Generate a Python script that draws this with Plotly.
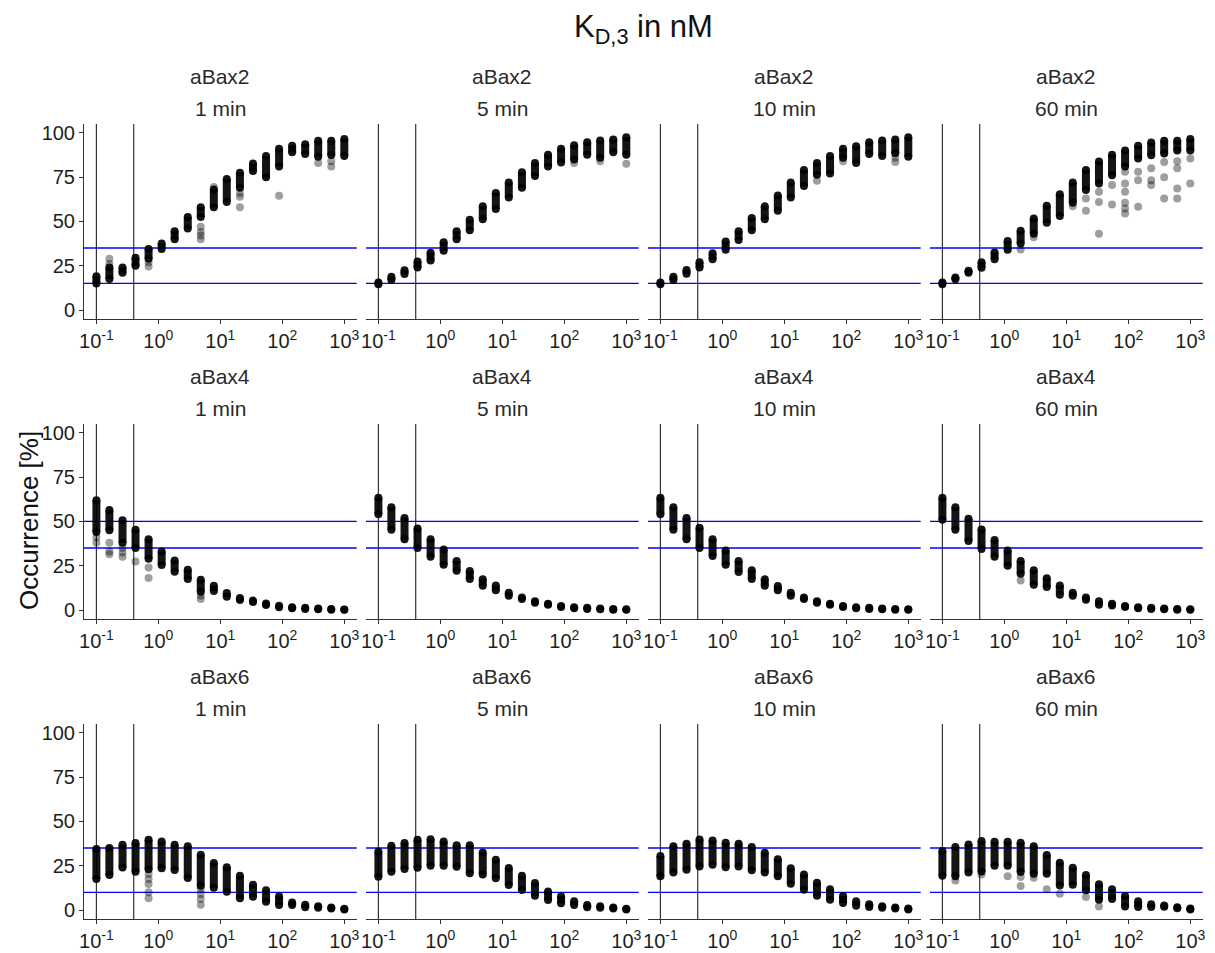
import plotly.graph_objects as go

W, H = 1215, 953

# ---- data ----
conc = [0.1, 0.162, 0.264, 0.428, 0.695, 1.13, 1.83, 2.98, 4.83, 7.85,
        12.7, 20.7, 33.6, 54.6, 88.6, 144, 234, 379, 616, 1000]

proteins = ["aBax2", "aBax4", "aBax6"]
times = ["1 min", "5 min", "10 min", "60 min"]
vlines = [0.1, 0.4]
hlines = {"aBax2": [15, 35], "aBax4": [35, 50], "aBax6": [10, 35]}

aBax2_1_lo = [15, 17.5, 21, 25, 29, 34.5, 40, 46, 52.5, 58, 61, 69, 78.5, 75, 81, 89, 88, 86.5, 87.5, 87]
aBax2_1_hi = [19, 24, 24, 29.5, 34.5, 37.5, 44.5, 52.5, 58, 68, 74, 77.5, 82.7, 87, 91, 92.7, 93.5, 95.5, 95.5, 96.5]
aBax2_1_out = [(1, 26), (1, 29), (4, 24.5), (4, 27), (8, 47), (8, 44), (8, 42), (8, 40), (9, 69.5),
               (11, 66), (11, 64), (11, 58), (14, 64.5), (17, 83), (18, 81), (18, 84)]

aBax2_5_lo = [14.5, 17, 20.3, 24, 28, 33.5, 40, 45, 51.3, 57, 63.5, 69, 75.7, 81, 83.3, 85, 87.6, 86, 89, 87.6]
aBax2_5_hi = [15.5, 18.7, 22.4, 27.4, 32.3, 38.3, 44.4, 51, 58.6, 66, 72, 77.8, 83, 87.6, 91, 93, 94.7, 95.7, 96.2, 97.5]
aBax2_5_out = [(17, 84), (19, 82.5), (15, 83)]

aBax2_10_lo = [14.5, 17, 20.5, 24, 28.7, 34, 39.5, 45, 51.3, 56, 63.5, 70, 76.3, 77, 86, 83, 88, 87, 88.5, 86.5]
aBax2_10_hi = [15.5, 18.7, 22.6, 27, 32, 38.7, 44.5, 52, 58.5, 64.7, 72, 79, 83, 87, 91, 92.5, 94.7, 95.7, 96.2, 97.5]
aBax2_10_out = [(12, 73), (18, 86), (18, 83.5), (14, 84)]

aBax2_60_lo = [14.5, 17.3, 21, 23.9, 28.6, 34, 37.6, 43, 49.2, 53, 60.5, 67.7, 71.4, 76, 81, 85.5, 87.4, 88.3, 90, 90]
aBax2_60_hi = [15.5, 18.4, 22.2, 26.9, 32.5, 39, 44.7, 51.7, 58.8, 65.4, 72, 79, 83.8, 87.6, 90, 92.7, 94.5, 95.5, 95.5, 96.5]
aBax2_60_out = [(6, 34.2), (7, 41), (10, 58.6), (11, 56), (11, 63), (12, 66.7), (12, 61), (12, 43),
                (13, 70.5), (13, 59.6), (14, 78), (14, 71.4), (14, 66.7), (14, 60.5), (14, 57.3), (14, 54.5),
                (15, 78), (15, 73.3), (15, 58.3), (16, 80), (16, 73.3), (16, 70.5), (17, 83.6), (17, 75),
                (17, 63), (18, 84), (18, 80), (18, 68.6), (18, 63), (19, 85.5), (19, 71.4)]

aBax4_1_lo = [44, 45, 38, 35, 29, 25.4, 21.6, 17.5, 10.3, 10.7, 7.5, 5.6, 4.5, 2.8, 1.6, 1.0, 0.6, 0.4, 0.2, 0.1]
aBax4_1_hi = [62, 56.5, 50.6, 45.3, 40, 33, 28, 22.7, 17.1, 13.7, 9.6, 6.8, 5.3, 3.6, 2.4, 1.6, 1.2, 0.8, 0.6, 0.3]
aBax4_1_out = [(0, 41), (0, 38), (1, 38), (1, 33), (1, 31.5), (2, 35), (2, 32.5), (2, 30), (3, 27.4),
               (4, 24), (4, 18), (8, 8), (8, 6.2)]

aBax4_5_lo = [54, 45.3, 40, 35, 30, 25.6, 22.2, 17.5, 13.7, 11.1, 8.1, 6.2, 4.1, 2.9, 1.7, 1.0, 0.6, 0.4, 0.2, 0.1]
aBax4_5_hi = [63.3, 58, 52, 46, 40, 34.2, 27.6, 22, 17.3, 13.9, 9.8, 7, 4.9, 3.5, 2.3, 1.6, 1.2, 0.8, 0.6, 0.4]
aBax4_5_out = []

aBax4_10_lo = [54, 45.3, 40, 35, 30.5, 25.6, 21.4, 17.5, 13.7, 11.1, 8.1, 6.2, 4.1, 2.9, 1.7, 1.0, 0.6, 0.4, 0.2, 0.1]
aBax4_10_hi = [63.3, 58, 52, 46.5, 40, 33.6, 27.6, 22.4, 17.3, 13.5, 9.8, 7, 4.9, 3.5, 2.3, 1.6, 1.2, 0.8, 0.6, 0.4]
aBax4_10_out = []

aBax4_60_lo = [51, 45.3, 39, 34.4, 30, 25, 20.5, 14.3, 13, 8.6, 8.1, 5.8, 3, 2.5, 1.7, 1.0, 0.6, 0.4, 0.2, 0.1]
aBax4_60_hi = [63.3, 58, 51.5, 45.5, 39.5, 33.6, 27.6, 22.4, 17.9, 13.9, 9.8, 7, 5, 3.5, 2.3, 1.6, 1.2, 0.8, 0.6, 0.4]
aBax4_60_out = [(6, 16.7)]

aBax6_1_lo = [17.5, 19.7, 24, 21.6, 23, 23.5, 22.6, 18, 13.7, 12.6, 10.3, 6.6, 7.5, 4.7, 2.8, 2.8, 1.5, 1.3, 0.8, 0.3]
aBax6_1_hi = [34.4, 35, 36.8, 37.8, 39.7, 38.7, 36.8, 36, 31.2, 26.5, 24.2, 19.4, 14.3, 11.1, 7.7, 4.3, 3, 2.1, 1.4, 0.7]
aBax6_1_out = [(4, 20.3), (4, 17.5), (4, 14.7), (4, 10), (4, 6.6), (8, 11.8), (8, 9), (8, 6.2), (8, 3)]

aBax6_5_lo = [18.8, 21.6, 23.1, 23.9, 25, 25, 24.4, 20.7, 20.1, 17.9, 14.1, 11.3, 8.1, 5.6, 3.8, 2.8, 1.5, 1.3, 0.8, 0.3]
aBax6_5_hi = [33, 36.3, 37.8, 39.7, 40, 38.7, 36.5, 36.5, 32.5, 28.4, 23.7, 19.4, 15.2, 10.5, 7.7, 4.9, 2.8, 2.1, 1.4, 0.7]
aBax6_5_out = []

aBax6_10_lo = [19, 21.2, 22.7, 24.6, 25.6, 24.2, 24.6, 22.4, 21.2, 19, 14.8, 11.5, 8.1, 5.8, 4, 2.4, 1.7, 1.3, 0.8, 0.3]
aBax6_10_hi = [30.5, 36, 37.4, 39.8, 39.3, 38, 37.4, 35.5, 32.3, 28.6, 23.5, 20.1, 15.4, 11.7, 7.9, 5, 3.2, 2.1, 1.4, 0.8]
aBax6_10_out = []

aBax6_60_lo = [19.4, 19, 21.2, 21.8, 25, 25, 21.4, 20.5, 20.5, 13.9, 14.3, 11.1, 5.8, 6.2, 2, 1.7, 1.7, 1.8, 1, 0.3]
aBax6_60_hi = [33.3, 35.5, 37, 38.9, 38.5, 38.5, 38, 36, 31, 26.7, 23.9, 19.7, 14.5, 11.7, 7.9, 5, 3.2, 2.6, 1.6, 0.8]
aBax6_60_out = [(1, 16.7), (3, 20), (5, 19), (6, 18.6), (6, 13.5), (7, 18.2), (8, 11.7), (9, 9.2), (11, 7.3), (12, 2)]

panels = {
    ("aBax2", "1 min"): (aBax2_1_lo, aBax2_1_hi, aBax2_1_out),
    ("aBax2", "5 min"): (aBax2_5_lo, aBax2_5_hi, aBax2_5_out),
    ("aBax2", "10 min"): (aBax2_10_lo, aBax2_10_hi, aBax2_10_out),
    ("aBax2", "60 min"): (aBax2_60_lo, aBax2_60_hi, aBax2_60_out),
    ("aBax4", "1 min"): (aBax4_1_lo, aBax4_1_hi, aBax4_1_out),
    ("aBax4", "5 min"): (aBax4_5_lo, aBax4_5_hi, aBax4_5_out),
    ("aBax4", "10 min"): (aBax4_10_lo, aBax4_10_hi, aBax4_10_out),
    ("aBax4", "60 min"): (aBax4_60_lo, aBax4_60_hi, aBax4_60_out),
    ("aBax6", "1 min"): (aBax6_1_lo, aBax6_1_hi, aBax6_1_out),
    ("aBax6", "5 min"): (aBax6_5_lo, aBax6_5_hi, aBax6_5_out),
    ("aBax6", "10 min"): (aBax6_10_lo, aBax6_10_hi, aBax6_10_out),
    ("aBax6", "60 min"): (aBax6_60_lo, aBax6_60_hi, aBax6_60_out),
}

xticks = [0.1, 1, 10, 100, 1000]
xticktext = ["10<sup>-1</sup>", "10<sup>0</sup>", "10<sup>1</sup>", "10<sup>2</sup>", "10<sup>3</sup>"]
yticks = [0, 25, 50, 75, 100]

# ---- layout geometry (pixels) ----
left0, pw, pitch_x = 84, 272.7, 282
top0, ph, pitch_y = 124, 195.3, 300
FONT = "Liberation Sans, Arial, sans-serif"
TICK_SIZE = 20
STRIP_SIZE = 21

fig = go.Figure()
layout = dict(width=W, height=H, margin=dict(l=0, r=0, t=0, b=0, pad=0, autoexpand=False),
              paper_bgcolor="white", plot_bgcolor="white", showlegend=False,
              font=dict(family=FONT, color="#222"))
shapes, annotations = [], []

for r, prot in enumerate(proteins):
    for c, t in enumerate(times):
        n = r * 4 + c + 1
        sfx = "" if n == 1 else str(n)
        xa, ya = "x" + sfx, "y" + sfx
        lo, hi, out = panels[(prot, t)]
        L = left0 + c * pitch_x
        T = top0 + r * pitch_y
        xd = [L / W, (L + pw) / W]
        yd = [1 - (T + ph) / H, 1 - T / H]
        layout["xaxis" + sfx] = dict(
            domain=xd, anchor=ya, type="log", range=[-1.2, 3.2], automargin=False,
            tickvals=xticks, ticktext=xticktext, ticks="outside", ticklen=4,
            tickcolor="#333", showline=True, linecolor="#333", linewidth=1,
            showgrid=False, zeroline=False, tickfont=dict(size=TICK_SIZE, color="#1e1e1e"))
        layout["yaxis" + sfx] = dict(
            domain=yd, anchor=xa, range=[-5.25, 105], tickvals=yticks, automargin=False,
            ticks="outside" if c == 0 else "", ticklen=4, tickcolor="#333",
            showline=(c == 0), linecolor="#333", linewidth=1,
            showticklabels=(c == 0), showgrid=False, zeroline=False,
            tickfont=dict(size=TICK_SIZE, color="#1e1e1e"))

        # reference lines
        for v in vlines:
            shapes.append(dict(type="line", xref=xa, yref=ya + " domain", x0=v, x1=v, y0=0, y1=1,
                               line=dict(color="#333", width=1.2), layer="below"))
        for h in hlines[prot]:
            shapes.append(dict(type="line", xref=xa + " domain", yref=ya, x0=0, x1=1, y0=h, y1=h,
                               line=dict(color="#0000ff", width=1.3), layer="below"))

        # dense clusters as capsules (lo..hi)
        sx, sy = [], []
        for xv, a, b in zip(conc, lo, hi):
            sx += [xv, xv, None]
            sy += [a, b, None]
        fig.add_trace(go.Scatter(x=sx, y=sy, xaxis=xa, yaxis=ya, mode="lines+markers",
                                 line=dict(color="rgba(0,0,0,0.92)", width=8),
                                 marker=dict(size=8, color="rgba(0,0,0,0.92)"),
                                 connectgaps=False, hoverinfo="skip"))
        if out:
            fig.add_trace(go.Scatter(x=[conc[i] for i, _ in out], y=[v for _, v in out],
                                     xaxis=xa, yaxis=ya, mode="markers",
                                     marker=dict(size=8, color="rgba(0,0,0,0.38)"),
                                     hoverinfo="skip"))

        # strip labels
        cx = (L + pw / 2) / W
        annotations.append(dict(text=prot, x=cx, y=1 - (T - 48) / H, xref="paper", yref="paper",
                                showarrow=False, font=dict(size=STRIP_SIZE, color="#2a2a2a"),
                                xanchor="center", yanchor="middle"))
        annotations.append(dict(text=t, x=cx, y=1 - (T - 15.5) / H, xref="paper", yref="paper",
                                showarrow=False, font=dict(size=STRIP_SIZE, color="#2a2a2a"),
                                xanchor="center", yanchor="middle"))

annotations.append(dict(text="K<sub>D,3</sub> in nM", x=643 / W, y=1 - 29 / H, xref="paper", yref="paper",
                        showarrow=False, font=dict(size=31, color="#111"), xanchor="center", yanchor="middle"))
annotations.append(dict(text="Occurrence [%]", x=29 / W, y=1 - 521 / H, xref="paper", yref="paper",
                        showarrow=False, textangle=-90, font=dict(size=26, color="#111"),
                        xanchor="center", yanchor="middle"))

layout["shapes"] = shapes
layout["annotations"] = annotations
fig.update_layout(**layout)
fig.write_html("out.html")
